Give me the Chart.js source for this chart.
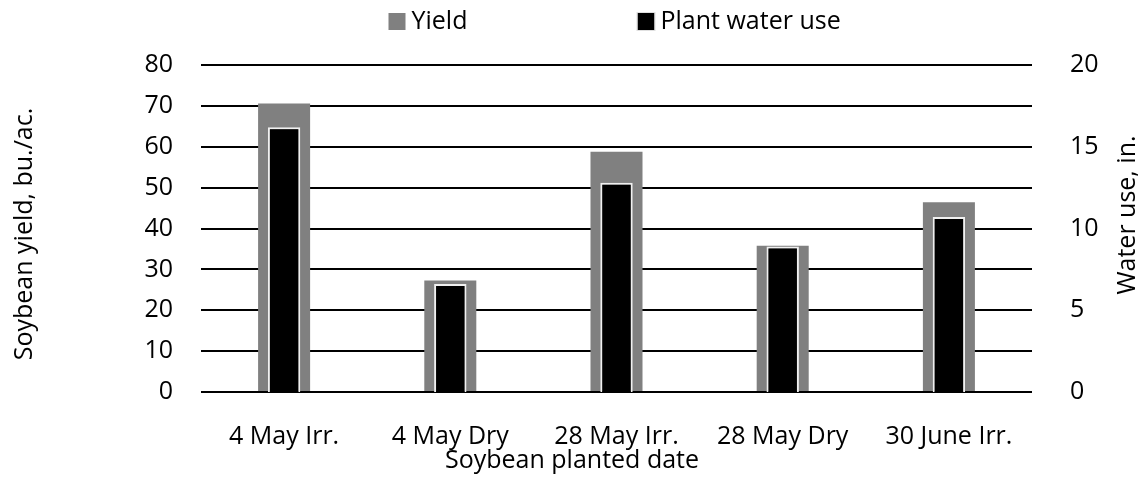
<!DOCTYPE html>
<html>
<head>
<meta charset="utf-8">
<title>Soybean yield and plant water use</title>
<script src="https://cdn.jsdelivr.net/npm/chart.js@4.4.1/dist/chart.umd.min.js"></script>
<style>
  html, body { margin: 0; padding: 0; background: #fff; }
  #wrap { width: 1144px; height: 481px; }
</style>
</head>
<body>
<div id="wrap"><canvas id="chart" width="1144" height="481"></canvas></div>
<script>
// --- Data ---
const plantingDates = ['4 May Irr.', '4 May Dry', '28 May Irr.', '28 May Dry', '30 June Irr.'];
const yieldValues = [70.6, 27.3, 58.8, 35.8, 46.4];   // bu./ac.
const waterUseValues = [16.2, 6.6, 12.8, 8.9, 10.7];  // in.
const yieldTicks = [0, 10, 20, 30, 40, 50, 60, 70, 80];
const waterTicks = [0, 5, 10, 15, 20];

const xTitle = 'Soybean planted date';
const yTitle = 'Soybean yield, bu./ac.';
const y1Title = 'Water use, in.';

// --- Common styles ---
const FAMILY = "'Open Sans', sans-serif";
const SIZE = 25;
const font = { family: FAMILY, size: SIZE };

// Legend and axis titles drawn by hand (Excel-like spacing, right title reads upward)
const decorPlugin = {
  id: 'decor',
  afterDraw(chart) {
    const { ctx, chartArea } = chart;
    ctx.save();
    ctx.font = `${SIZE}px ${FAMILY}`;
    ctx.fillStyle = '#000';
    ctx.textBaseline = 'middle';

    // legend: one slot per dataset, centred over the plot area
    const slot = 249;
    let x = (chartArea.left + chartArea.right) / 2 - 228;
    chart.data.datasets.forEach(ds => {
      ctx.fillStyle = ds.backgroundColor;
      ctx.fillRect(x, 13, 17, 17);
      if (ds.legendEdge) {
        ctx.strokeStyle = ds.legendEdge;
        ctx.lineWidth = 1;
        ctx.strokeRect(x - 0.5, 12.5, 18, 18);
      }
      ctx.fillStyle = '#000';
      ctx.textAlign = 'left';
      ctx.fillText(ds.label, x + 23, 22);
      x += slot;
    });

    // axis titles
    ctx.textAlign = 'center';
    ctx.fillText(xTitle, chart.width / 2, 461);

    ctx.save();
    ctx.translate(25, 234);
    ctx.rotate(-Math.PI / 2);
    ctx.fillText(yTitle, 0, 0);
    ctx.restore();

    ctx.save();
    ctx.translate(1128, 215);
    ctx.rotate(-Math.PI / 2);
    ctx.fillText(y1Title, 0, 0);
    ctx.restore();

    ctx.restore();
  }
};

new Chart(document.getElementById('chart'), {
  type: 'bar',
  data: {
    labels: plantingDates,
    datasets: [{
      label: 'Yield',
      data: yieldValues,
      yAxisID: 'y',
      backgroundColor: '#808080',
      grouped: false,
      order: 2,
      barPercentage: 0.313,
      categoryPercentage: 1
    }, {
      label: 'Plant water use',
      data: waterUseValues,
      yAxisID: 'y1',
      backgroundColor: '#000000',
      borderColor: '#f0f0f0',
      borderWidth: 2,
      legendEdge: '#e0e0e0',
      grouped: false,
      order: 1,
      barPercentage: 0.195,
      categoryPercentage: 1
    }]
  },
  options: {
    responsive: false,
    animation: false,
    devicePixelRatio: 1,
    layout: { padding: { top: 65, left: 0, right: 0, bottom: 0 } },
    plugins: {
      legend: { display: false },
      tooltip: { enabled: false }
    },
    scales: {
      x: {
        grid: { display: false },
        border: { display: false },
        ticks: { color: '#000', font, padding: 22, maxRotation: 0 },
        afterFit: s => { s.height = 89; }
      },
      y: {
        position: 'left',
        min: yieldTicks[0],
        max: yieldTicks[yieldTicks.length - 1],
        afterBuildTicks: s => { s.ticks = yieldTicks.map(v => ({ value: v })); },
        grid: { color: '#000', lineWidth: 2, drawTicks: false },
        border: { display: false },
        ticks: { color: '#000', font, padding: 28 },
        afterFit: s => { s.width = 201; }
      },
      y1: {
        position: 'right',
        min: waterTicks[0],
        max: waterTicks[waterTicks.length - 1],
        afterBuildTicks: s => { s.ticks = waterTicks.map(v => ({ value: v })); },
        grid: { display: false },
        border: { display: false },
        ticks: { color: '#000', font, padding: 30 },
        afterFit: s => { s.width = 112; }
      }
    }
  },
  plugins: [decorPlugin]
});
</script>
</body>
</html>
